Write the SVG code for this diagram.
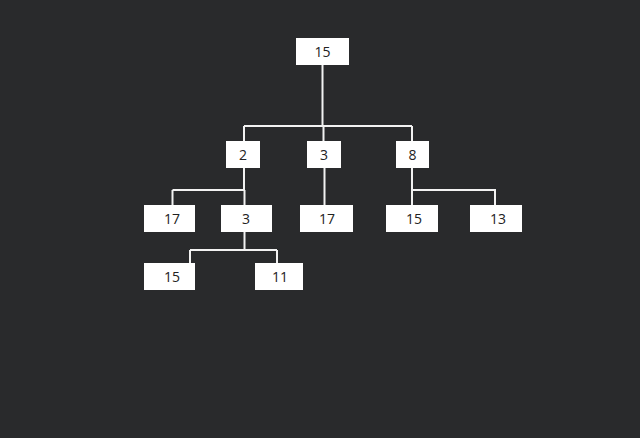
<svg xmlns="http://www.w3.org/2000/svg" width="640" height="438" viewBox="0 0 640 438">
<style>
.n rect{fill:#ffffff}
.n text{font-family:"Open Sans","Noto Sans",sans-serif;font-size:14px;fill:#222222;text-anchor:middle;dominant-baseline:central}
.c path{fill:none;stroke:#f2f2f2;stroke-width:2}
</style>
<rect width="640" height="438" fill="#292a2c"/>
<g id="connectors" class="c">
<path d="M322.5 65V126M244 126H412M244 126V141M323.5 126V141M412 126V141"/>
<path d="M244 168V190M172.5 190H244.5M172.5 190V205M244.5 190V205"/>
<path d="M324.5 168V205"/>
<path d="M412 168V190H495V205M412 190V205"/>
<path d="M244.5 232V250M190 250H277M190 250V263M277 250V263"/>
</g>
<g id="n15root" class="n"><rect x="296" y="38" width="53" height="27"/><text x="322.5" y="51.5">15</text></g>
<g id="n2" class="n"><rect x="226" y="141" width="34" height="27"/><text x="243" y="154.5">2</text></g>
<g id="n3a" class="n"><rect x="307" y="141" width="34" height="27"/><text x="324" y="154.5">3</text></g>
<g id="n8" class="n"><rect x="396" y="141" width="33" height="27"/><text x="412.5" y="154.5">8</text></g>
<g id="n17a" class="n"><rect x="144" y="205" width="51" height="27"/><text x="172" y="218.5">17</text></g>
<g id="n3b" class="n"><rect x="221" y="205" width="51" height="27"/><text x="246" y="218.5">3</text></g>
<g id="n17b" class="n"><rect x="300" y="205" width="53" height="27"/><text x="327" y="218.5">17</text></g>
<g id="n15b" class="n"><rect x="386" y="205" width="52" height="27"/><text x="414" y="218.5">15</text></g>
<g id="n13" class="n"><rect x="470" y="205" width="52" height="27"/><text x="498" y="218.5">13</text></g>
<g id="n15c" class="n"><rect x="144" y="263" width="51" height="27"/><text x="172" y="276.5">15</text></g>
<g id="n11" class="n"><rect x="255" y="263" width="48" height="27"/><text x="280" y="276.5">11</text></g>
</svg>
